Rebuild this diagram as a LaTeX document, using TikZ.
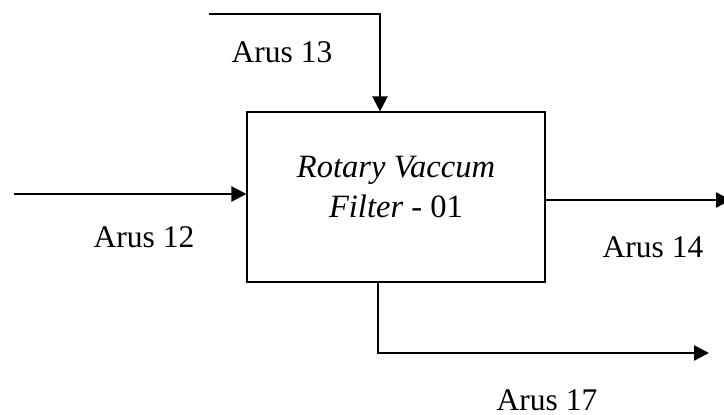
\documentclass[tikz,border=0pt]{standalone}
\usepackage{fontspec}
\setmainfont{Liberation Serif}
\usepackage{tikz}
\usetikzlibrary{arrows.meta}

\begin{document}
\begin{tikzpicture}[x=0.387pt, y=-0.387pt, stream/.style={-{Triangle[length=5.8pt,width=5.8pt]}, line width=0.9pt}, unit/.style={rectangle, draw, line width=0.45pt, minimum width=115.3pt, minimum height=65.8pt, inner sep=0pt}, lbl/.style={font=\fontsize{12.2}{14.5}\selectfont}]
                \useasboundingbox (0,0) rectangle (724,414);
                \node[unit, label={[font=\fontsize{12.6}{15}\selectfont, align=center, yshift=3.9pt]center:\textit{Rotary Vaccum}\\[0.5pt]\textit{Filter} - 01}] (rvf) at (396,197) {};
                \node[lbl] (arus12) at (144,237) {Arus 12};
                \node[lbl] (arus13) at (282,52) {Arus 13};
                \node[lbl] (arus14) at (653,247) {Arus 14};
                \node[lbl] (arus17) at (547,400) {Arus 17};
                \coordinate (in12) at (14,194);
                \coordinate (in13) at (209,14);
                \coordinate (out14) at (731,200);
                \coordinate (out17) at (709,353);
                \draw[stream] (in12) -- (in12 -| rvf.west);
                \draw[stream] (in13) -| (380,0 |- rvf.north);
                \draw[stream] (rvf.east |- out14) -- (out14);
                \draw[stream] (378,0 |- rvf.south) |- (out17);
            \end{tikzpicture}
\end{document}
